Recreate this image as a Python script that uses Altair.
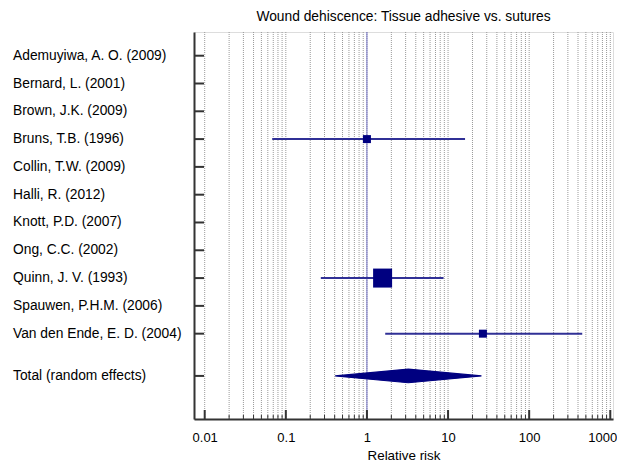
import altair as alt
import pandas as pd

chart_title = "Wound dehiscence: Tissue adhesive vs. sutures"
x_title = "Relative risk"

studies = [
    "Ademuyiwa, A. O. (2009)",
    "Bernard, L. (2001)",
    "Brown, J.K. (2009)",
    "Bruns, T.B. (1996)",
    "Collin, T.W. (2009)",
    "Halli, R. (2012)",
    "Knott, P.D. (2007)",
    "Ong, C.C. (2002)",
    "Quinn, J. V. (1993)",
    "Spauwen, P.H.M. (2006)",
    "Van den Ende, E. D. (2004)",
]
rr = [None, None, None, 1.00, None, None, None, None, 1.56, None, 26.9]
ci_low = [None, None, None, 0.068, None, None, None, None, 0.27, None, 1.68]
ci_high = [None, None, None, 16.2, None, None, None, None, 8.8, None, 451.0]
weights = [None, None, None, 11.0, None, None, None, None, 62.0, None, 11.0]

total_label = "Total (random effects)"
total_rr = 3.24
total_low = 0.406
total_high = 25.8

major_ticks = [0.01, 0.1, 1, 10, 100, 1000]
minor_mult = [2, 3, 4, 5, 6, 7, 8, 9]

# ---- layout ----
W, H = 419, 387
XDOM = [0.00738, 1080]
YDOM = [-0.853, 13.07]
TOTAL_ROW = len(studies) + 0.52
DIAMOND_HALF = 0.245
FONT = "Liberation Sans"

minor_ticks = [m * t for t in major_ticks[:-1] for m in minor_mult]
grid_vals = sorted(major_ticks + minor_ticks)

labels_df = pd.DataFrame({
    "label": studies + [total_label],
    "row": list(range(len(studies))) + [TOTAL_ROW],
})
st = pd.DataFrame({
    "study": studies, "row": list(range(len(studies))),
    "rr": rr, "lo": ci_low, "hi": ci_high, "w": weights,
}).dropna()
diamond = pd.DataFrame({
    "x": [total_low, total_rr, total_high],
    "y": [TOTAL_ROW, TOTAL_ROW - DIAMOND_HALF, TOTAL_ROW],
    "y2": [TOTAL_ROW, TOTAL_ROW + DIAMOND_HALF, TOTAL_ROW],
})
grid_df = pd.DataFrame({"v": grid_vals})
major_df = pd.DataFrame({"v": major_ticks})
minor_df = pd.DataFrame({"v": minor_ticks})
ref_df = pd.DataFrame({"v": [1.0]})

xs = alt.Scale(type="log", domain=XDOM, nice=False)
ys = alt.Scale(domain=YDOM, reverse=True, nice=False, zero=False)

grid = alt.Chart(grid_df).mark_rule(
    stroke="#9a9a9a", strokeDash=[1, 1], strokeWidth=1
).encode(
    x=alt.X("v:Q", scale=xs, axis=alt.Axis(
        values=major_ticks, format="~g", title=x_title,
        ticks=False, tickSize=0, grid=False,
        domainColor="#333333", domainWidth=2,
        labelFont=FONT, labelFontSize=13, labelColor="#000000", labelPadding=12,
        labelOffset={"condition": {"test": "datum.value >= 1000", "value": -8}, "value": 0},
        titleFont=FONT, titleFontSize=13.4, titleFontWeight="normal",
        titleColor="#000000", titlePadding=4,
    ))
)

labels = alt.Chart(labels_df).mark_text(
    align="left", baseline="middle", font=FONT, fontSize=13.8, color="#000000"
).encode(
    x=alt.value(-181),
    y=alt.Y("row:Q", scale=ys, axis=alt.Axis(
        labels=False, ticks=False, grid=False, title=None,
        domainColor="#333333", domainWidth=2,
    )),
    text="label:N",
)

ytick = alt.Chart(labels_df).mark_rule(color="#333333", strokeWidth=2).encode(
    x=alt.value(0), x2=alt.value(10), y=alt.Y("row:Q", scale=ys)
)

xmajor = alt.Chart(major_df).mark_rule(color="#333333", strokeWidth=2).encode(
    x=alt.X("v:Q", scale=xs), y=alt.value(H), y2=alt.value(H - 9)
)
xminor = alt.Chart(minor_df).mark_rule(color="#333333", strokeWidth=1).encode(
    x=alt.X("v:Q", scale=xs), y=alt.value(H), y2=alt.value(H - 4)
)

ref = alt.Chart(ref_df).mark_rule(color="#6f6fc4", strokeWidth=1).encode(
    x=alt.X("v:Q", scale=xs)
)

ci = alt.Chart(st).mark_rule(color="#303096", strokeWidth=2).encode(
    x=alt.X("lo:Q", scale=xs), x2="hi:Q", y=alt.Y("row:Q", scale=ys)
)

sq = alt.Chart(st).mark_square(color="#000080", opacity=1).encode(
    x=alt.X("rr:Q", scale=xs),
    y=alt.Y("row:Q", scale=ys),
    size=alt.Size("w:Q", scale=alt.Scale(domain=[0, 62], range=[0, 361]), legend=None),
)

dia = alt.Chart(diamond).mark_area(
    color="#000080", opacity=1, stroke="#000080", strokeWidth=1.2
).encode(
    x=alt.X("x:Q", scale=xs),
    y=alt.Y("y:Q", scale=ys),
    y2="y2:Q",
)

chart = alt.layer(grid, ref, ci, sq, dia, xmajor, xminor, ytick, labels).properties(
    width=W, height=H,
    title=alt.TitleParams(chart_title, font=FONT, fontSize=13.8, fontWeight="normal",
                          color="#000000", anchor="middle", offset=8),
    padding={"left": 186, "top": 24, "right": 4, "bottom": 44},
    autosize="none",
).configure_view(stroke=None).configure(background="white")

chart.save("out.html", embed_options={"renderer": "svg", "actions": False})
